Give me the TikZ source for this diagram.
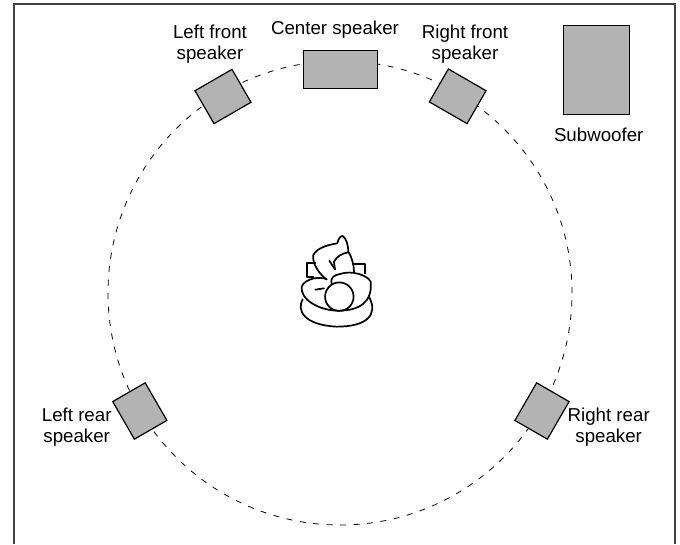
\documentclass[tikz,border=0pt]{standalone}
\usepackage{fontspec}
\setmainfont{Liberation Sans}
\definecolor{spk}{HTML}{B3B3B3}
\tikzset{
  speaker/.style={draw=black,fill=spk,line width=1.2pt,inner sep=0pt,anchor=center},
  lab/.style={align=center,inner sep=0pt,font=\fontsize{18.7}{20.5}\selectfont,text=black},
  figline/.style={line width=1.7pt,line cap=round,line join=round}
}
\begin{document}
\begin{tikzpicture}[x=1pt,y=-1pt]
\useasboundingbox (0,0) rectangle (680,544);
\draw[line width=1.2pt,color=black!75] (14,544) -- (14,4) -- (675,4) -- (675,544);
\node[circle,draw=black,line width=0.8pt,dash pattern=on 6pt off 7.5pt,minimum size=464pt,inner sep=0pt] (ring) at (340,293) {};
\node[speaker,minimum width=74.5pt,minimum height=38pt] (center) at (340.5,69.7) {};
\node[speaker,minimum width=42.7pt,minimum height=38pt,rotate=30] (lf) at (223,96.5) {};
\node[speaker,minimum width=43.5pt,minimum height=38pt,rotate=-30] (rf) at (457.7,96.3) {};
\node[speaker,minimum width=37.5pt,minimum height=43.4pt,rotate=30] (lr) at (139.8,411) {};
\node[speaker,minimum width=37.5pt,minimum height=43.4pt,rotate=-30] (rr) at (542,411) {};
\node[speaker,minimum width=66pt,minimum height=89pt] (sub) at (596.3,70.2) {};
\node[lab] (tc) at (335,30) {Center speaker};
\node[lab] (tlf) at (210,44) {Left front\\speaker};
\node[lab] (trf) at (465,44) {Right front\\speaker};
\node[lab] (tsub) at (598.7,135) {Subwoofer};
\node[lab] (tlr) at (76.7,427) {Left rear\\speaker};
\node[lab] (trr) at (608.7,427) {Right rear\\speaker};
\begin{scope}[shift={(280,220)},x=0.3333pt,y=-0.3333pt,figline]
  \draw (100,170) -- (81,170) -- (81,130) -- (106,130);
  \draw (222,131) -- (255,131) -- (255,160);
  \draw (68,238) .. controls (50,270) and (70,315) .. (170,320) .. controls (260,320) and (295,285) .. (268,232);
  \draw (140,178) .. controls (120,168) and (75,175) .. (65,200) .. controls (60,240) and (120,272) .. (175,272) .. controls (240,272) and (278,245) .. (272,185) .. controls (262,165) and (215,150) .. (180,162) .. controls (160,165) and (150,175) .. (155,192);
  \draw (140,178) .. controls (120,165) and (95,130) .. (100,105) .. controls (110,85) and (140,75) .. (172,70) .. controls (175,55) and (183,47) .. (188,48) .. controls (200,55) and (205,80) .. (205,95) .. controls (215,110) and (222,135) .. (222,155);
  \draw (205,97) .. controls (185,100) and (170,110) .. (162,125) .. controls (162,135) and (165,142) .. (165,148);
  \draw (148,122) -- (165,148);
  \draw (106,209) -- (132,205);
  \node[circle,draw=black,line width=1.7pt,minimum size=28.5pt,inner sep=0pt] (head) at (178,230) {};
\end{scope}
\end{tikzpicture}
\end{document}
